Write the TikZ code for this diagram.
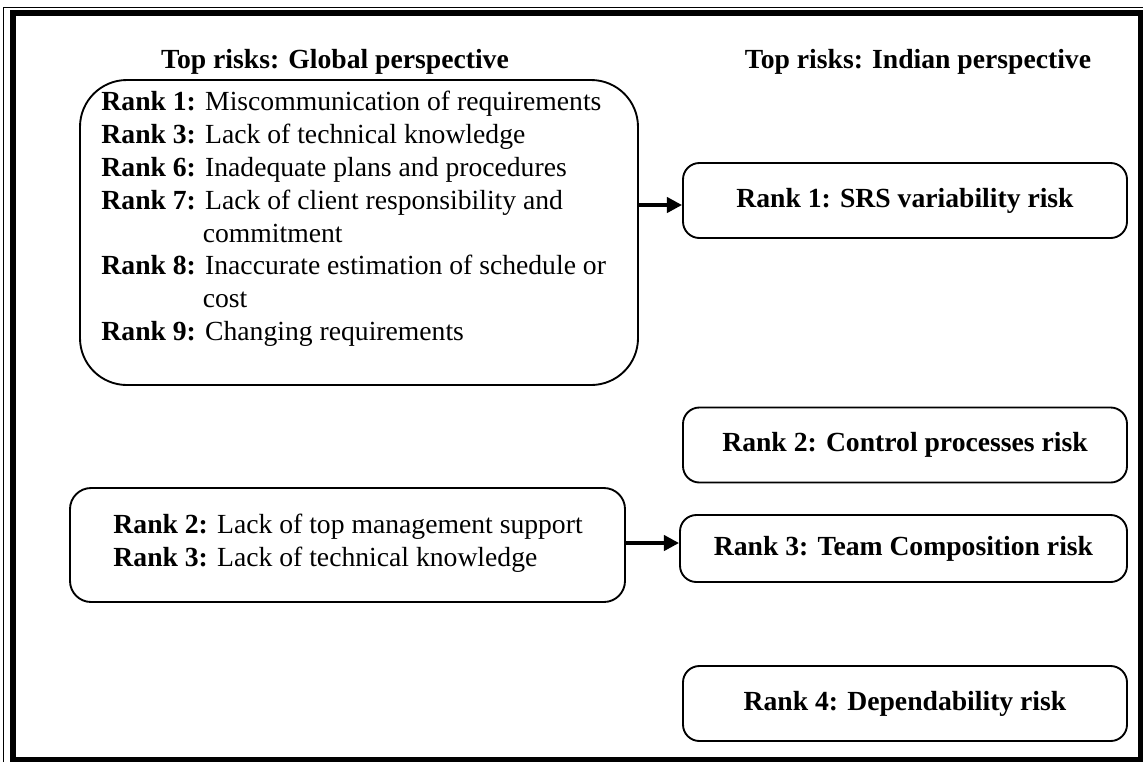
\documentclass[tikz,border=0pt]{standalone}
\usepackage{fontspec}
\setmainfont{Liberation Serif}
\usetikzlibrary{arrows.meta}

\begin{document}
\begin{tikzpicture}[x=0.015cm,y=-0.015cm,
    font=\fontsize{11.8}{14}\selectfont,
    riskbox/.style={draw,line width=0.8pt,rounded corners=7pt,inner sep=0pt},
    rankbox/.style={riskbox,minimum width=444*0.015cm,minimum height=75*0.015cm,font=\fontsize{11.8}{14}\selectfont\bfseries},
    link/.style={line width=1.6pt,-{Triangle[length=6.5pt,width=6.5pt]}}]
          \useasboundingbox (0,0) rectangle (1143,762);
          % frame
          \draw[line width=0.4pt] (3,762) -- (3,7) -- (1143,7);%
          \fill (10,10) rectangle (1143,762);%
          \fill[white] (16,16) rectangle (1138,757);%

          % headings
          \node[font=\fontsize{11.8}{14}\selectfont\bfseries] (hglob) at (335,62) {Top risks: Global perspective};%
          \node[font=\fontsize{11.8}{14}\selectfont\bfseries] (hind) at (918,62) {Top risks: Indian perspective};%

          % global side
          \node[riskbox,rounded corners=20pt,minimum width=558*0.015cm,minimum height=305*0.015cm] (glob) at (359,232.5) {};%
          \node[anchor=north west,align=left,inner sep=0pt] (globtxt) at (101,91) {%
            \textbf{Rank 1:} Miscommunication of requirements\\
            \textbf{Rank 3:} Lack of technical knowledge\\
            \textbf{Rank 6:} Inadequate plans and procedures\\
            \textbf{Rank 7:} Lack of client responsibility and\\
            \phantom{\textbf{Rank 7:}} commitment\\
            \textbf{Rank 8:} Inaccurate estimation of schedule or\\
            \phantom{\textbf{Rank 8:}} cost\\
            \textbf{Rank 9:} Changing requirements};%
          \node[riskbox,rounded corners=9pt,minimum width=555*0.015cm,minimum height=114*0.015cm] (low) at (347.5,545) {};%
          \node[anchor=west,align=left,inner sep=0pt] (lowtxt) at (113,543) {%
            \textbf{Rank 2:} Lack of top management support\\
            \textbf{Rank 3:} Lack of technical knowledge};%

          % indian side
          \node[rankbox] (srs) at (905,200.5) {Rank 1: SRS variability risk};%
          \node[rankbox] (ctrl) at (905,445) {Rank 2: Control processes risk};%
          \node[rankbox,minimum width=447*0.015cm,minimum height=67*0.015cm] (team) at (903.5,548.5) {Rank 3: Team Composition risk};%
          \node[rankbox] (dep) at (905,703.5) {Rank 4: Dependability risk};%

          % arrows
          \draw[link] (glob.east |- 0,205) -- (srs.west |- 0,205);%
          \draw[link] (low.east |- 0,543) -- (team.west |- 0,543);%
    \end{tikzpicture}
\end{document}
